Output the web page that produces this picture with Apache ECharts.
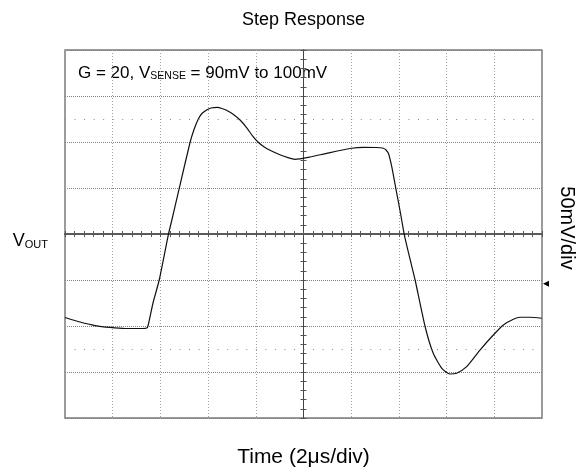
<!DOCTYPE html>
<html>
<head>
<meta charset="utf-8">
<script src="https://cdn.jsdelivr.net/npm/echarts@6/dist/echarts.min.js"></script>
<style>html,body{margin:0;padding:0;background:#fff}#c{width:576px;height:471px}</style>
</head>
<body>
<div id="c"></div>
<script>
// Time in microseconds (2 µs/div, 10 divisions)
const timeUs = [0, 0.63, 1.26, 1.89, 2.52, 3.14, 3.43, 3.49, 3.69, 3.95, 4.33, 4.50, 4.79, 5.24, 5.41, 5.59, 5.74, 5.94, 6.12, 6.39, 6.58, 6.83, 7.09, 7.34, 7.63, 7.88, 8.09, 8.34, 8.64, 9.01, 9.35, 9.64, 10.27, 10.97, 12.02, 12.51, 13.04, 13.35, 13.46, 13.56, 13.70, 13.87, 14.05, 14.23, 14.47, 14.68, 15.10, 15.44, 15.80, 16.14, 16.42, 16.84, 17.40, 17.96, 18.38, 18.80, 19.08, 19.50, 19.99];
// VOUT relative to the screen centre, mV (50 mV/div)
const voutMv = [-90.8, -95.7, -99.5, -101.6, -102.7, -102.7, -102.2, -98.9, -75.0, -50.0, -1.1, 17.4, 49.7, 99.2, 113.6, 125.0, 131.0, 134.8, 137.0, 137.7, 136.4, 133.7, 129.4, 123.9, 115.2, 106.0, 100.0, 94.8, 90.4, 86.1, 83.0, 81.2, 83.7, 87.7, 93.2, 94.2, 94.0, 93.2, 91.3, 87.7, 73.2, 49.7, 25.0, -1.1, -27.7, -50.0, -100.8, -129.7, -146.0, -152.2, -151.4, -144.2, -126.1, -109.8, -98.9, -92.7, -90.5, -90.5, -91.6];
// graticule rows with sub-division dots (mV)
const dotRowsMv = [125, -125];
// trace reference marker (right edge)
const markerPoint = [20, -54];

const FONT = 'Liberation Sans, Arial, sans-serif';
const chart = echarts.init(document.getElementById('c'), null, {renderer: 'canvas'});

const centerXAxis = (inside) => ({
  type: 'value', min: 0, max: 20, interval: 2,
  axisLine: {show: true, onZero: true, onZeroAxisIndex: 0, lineStyle: {color: '#5a5a5a', width: 2}},
  axisTick: {show: true, inside: inside, length: 3, lineStyle: {color: '#555', width: 1}},
  minorTick: {show: true, splitNumber: 5, length: 3, lineStyle: {color: '#555', width: 1}},
  axisLabel: {show: false}, splitLine: {show: false}, minorSplitLine: {show: false}
});
const centerYAxis = (inside) => ({
  type: 'value', min: -200, max: 200, interval: 50, position: 'left',
  axisLine: {show: true, onZero: true, onZeroAxisIndex: 3, lineStyle: {color: '#444', width: 1}},
  axisTick: {show: true, inside: inside, length: 3, lineStyle: {color: '#555', width: 1}},
  minorTick: {show: true, splitNumber: 5, length: 3, lineStyle: {color: '#555', width: 1}},
  axisLabel: {show: false}, splitLine: {show: false}
});

chart.setOption({
  animation: false,
  backgroundColor: '#fff',
  title: {
    text: 'Step Response', left: 303.5, textAlign: 'center', top: 11, padding: 0,
    textStyle: {fontFamily: FONT, fontSize: 18, fontWeight: 'normal', color: '#000'}
  },
  grid: {left: 65, top: 50, width: 477, height: 368, show: true, borderColor: '#7a7a7a', borderWidth: 1.5,
         backgroundColor: 'transparent', outerBoundsMode: 'none', containLabel: false},
  xAxis: [
    {
      type: 'value', min: 0, max: 20, interval: 2, position: 'bottom',
      name: 'Time (2μs/div)', nameLocation: 'middle', nameGap: 29,
      nameTextStyle: {fontFamily: FONT, fontSize: 21, color: '#000'},
      axisLine: {show: false, onZero: false}, axisTick: {show: false}, axisLabel: {show: false},
      splitLine: {show: true, lineStyle: {color: '#a0a0a0', type: [1, 2], width: 1}}
    },
    centerXAxis(false),
    centerXAxis(true),
    {type: 'value', min: -10, max: 10, show: false}
  ],
  yAxis: [
    {
      type: 'value', min: -200, max: 200, interval: 50, position: 'left',
      name: '{v|V}{s|OUT}', nameLocation: 'middle', nameRotate: 0, nameGap: 17,
      nameTextStyle: {
        padding: [12, 0, 0, 0],
        rich: {
          v: {fontFamily: FONT, fontSize: 18, color: '#000', verticalAlign: 'bottom', lineHeight: 20},
          s: {fontFamily: FONT, fontSize: 11, color: '#000', verticalAlign: 'bottom', lineHeight: 16}
        }
      },
      axisLine: {show: false, onZero: false}, axisTick: {show: false}, axisLabel: {show: false},
      splitLine: {show: true, lineStyle: {color: '#808080', type: [1, 1], width: 1}}
    },
    centerYAxis(false),
    centerYAxis(true),
    {
      type: 'value', min: -200, max: 200, position: 'right',
      name: '50mV/div', nameLocation: 'middle', nameRotate: -90, nameGap: 15,
      nameTextStyle: {fontFamily: FONT, fontSize: 20, color: '#000', padding: [0, 12, 0, 0]},
      axisLine: {show: false, onZero: false}, axisTick: {show: false}, axisLabel: {show: false}, splitLine: {show: false}
    }
  ],
  graphic: [{
    type: 'text', left: 78, top: 65, silent: true,
    style: {
      text: '{m|G = 20, V}{s|SENSE}{m| = 90mV to 100mV}',
      rich: {
        m: {fontFamily: FONT, fontSize: 17, fill: '#000', verticalAlign: 'bottom', lineHeight: 19},
        s: {fontFamily: FONT, fontSize: 10.5, fill: '#000', verticalAlign: 'bottom', lineHeight: 14}
      }
    }
  }],
  series: [{
    type: 'line', xAxisIndex: 0, yAxisIndex: 0,
    data: timeUs.map((t, i) => [t, voutMv[i]]),
    showSymbol: false, smooth: 0.2,
    lineStyle: {color: '#111', width: 1.2},
    markLine: {
      silent: true, symbol: 'none', label: {show: false},
      lineStyle: {color: '#8a8a8a', type: [1, 8.54], width: 1},
      data: dotRowsMv.map(v => ({yAxis: v}))
    },
    markPoint: {
      silent: true, label: {show: false},
      data: [{coord: markerPoint, symbol: 'triangle', symbolSize: 6, symbolRotate: 90, symbolOffset: [4, 0], itemStyle: {color: '#000'}}]
    }
  }]
});
</script>
</body>
</html>
